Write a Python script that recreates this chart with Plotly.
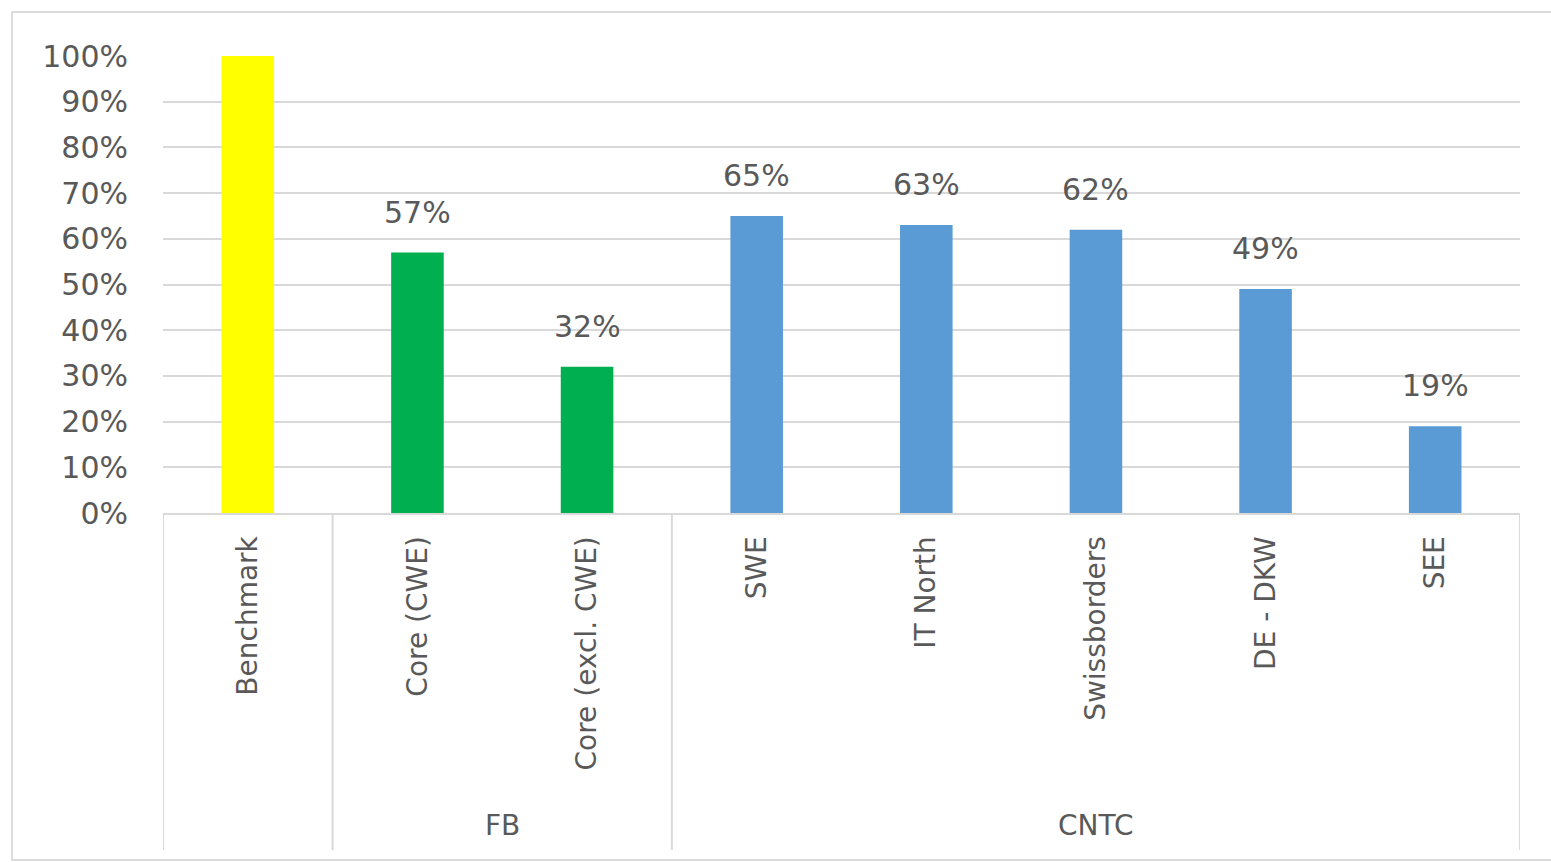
import plotly.graph_objects as go

# Chart data
categories = ["Benchmark", "Core (CWE)", "Core (excl. CWE)", "SWE", "IT North",
              "Swissborders", "DE - DKW", "SEE"]
values = [1.00, 0.57, 0.32, 0.65, 0.63, 0.62, 0.49, 0.19]
show_label = [False, True, True, True, True, True, True, True]
bar_colors = ["#FFFF00", "#00B050", "#00B050", "#5B9BD5", "#5B9BD5",
              "#5B9BD5", "#5B9BD5", "#5B9BD5"]

# Group spans along the category axis: (label, first index, last index)
groups = [("", 0, 0), ("FB", 1, 2), ("CNTC", 3, 7)]

y_ticks = [i / 10 for i in range(11)]
y_tick_text = [f"{i * 10}%" for i in range(11)]

W, H = 1551, 862
ML, MR, MT, MB = 163, 31, 56, 349
PW, PH = W - ML - MR, H - MT - MB

FONT = "DejaVu Sans"
GRAY_TEXT = "#595959"
GRID = "#d9d9d9"

fig = go.Figure()
fig.add_trace(go.Bar(
    x=categories, y=values, width=0.31,
    marker=dict(color=bar_colors, line=dict(width=0)),
    hoverinfo="x+y",
))

annotations = []
for c, v, s in zip(categories, values, show_label):
    if s:
        annotations.append(dict(
            x=c, y=v, xref="x", yref="y", text=f"{round(v * 100)}%",
            showarrow=False, yanchor="bottom", yshift=21,
            font=dict(family=FONT, size=30, color=GRAY_TEXT),
        ))

# Divider lines below the axis, between groups
bottom = (MT + PH - 850) / PH  # paper y of divider bottom
shapes = []
edges = sorted({g[1] - 0.5 for g in groups} | {groups[-1][2] + 0.5})
for e in edges:
    shapes.append(dict(type="line", xref="x", yref="paper", x0=e, x1=e,
                       y0=0, y1=bottom, line=dict(color=GRID, width=2)))

# Group labels
for name, a, b in groups:
    if name:
        annotations.append(dict(
            x=(a + b) / 2, y=(MT + PH - 826) / PH, xref="x", yref="paper",
            text=name, showarrow=False, yanchor="middle",
            font=dict(family=FONT, size=28, color=GRAY_TEXT),
        ))

# Outer chart frame
def px_x(p):
    return (p - ML) / PW

def px_y(p):
    return (MT + PH - p) / PH

shapes.append(dict(type="rect", xref="paper", yref="paper",
                   x0=px_x(12), x1=px_x(1580), y0=px_y(12), y1=px_y(860),
                   line=dict(color="#dcdcdc", width=2), layer="below"))

fig.update_layout(
    width=W, height=H,
    margin=dict(l=ML, r=MR, t=MT, b=MB),
    paper_bgcolor="white", plot_bgcolor="white",
    showlegend=False,
    bargap=0.69,
    annotations=annotations,
    shapes=shapes,
    font=dict(family=FONT, color=GRAY_TEXT),
)
fig.update_xaxes(
    type="category", categoryorder="array", categoryarray=categories,
    range=[-0.5, len(categories) - 0.5],
    showgrid=False, zeroline=False,
    showline=True, linecolor=GRID, linewidth=2,
    ticks="", tickangle=-90, ticklabelstandoff=10,
    tickfont=dict(family=FONT, size=28, color=GRAY_TEXT),
)
fig.update_yaxes(
    range=[0, 1], tickvals=y_ticks, ticktext=y_tick_text,
    showgrid=True, gridcolor=GRID, gridwidth=2,
    zeroline=False, showline=False, ticks="",
    ticklabelstandoff=34,
    tickfont=dict(family=FONT, size=30, color=GRAY_TEXT),
)

fig.write_html("out.html")
